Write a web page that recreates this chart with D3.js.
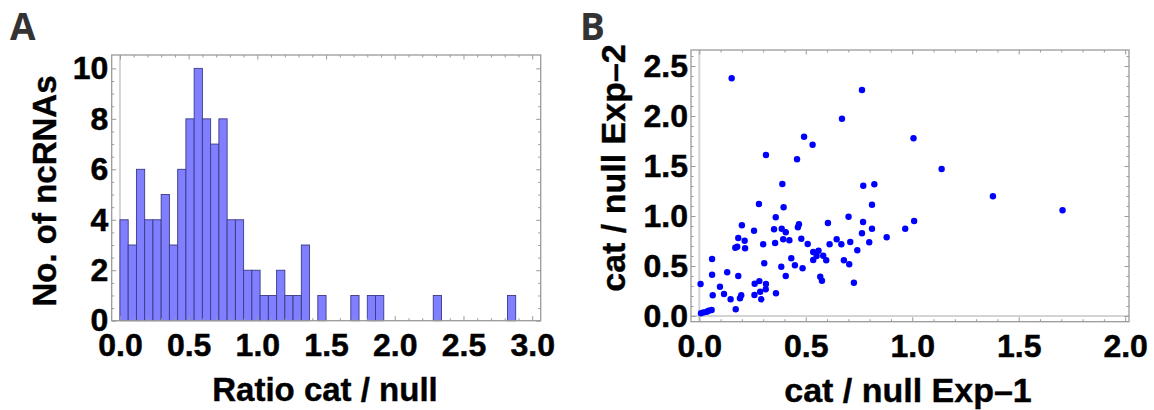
<!DOCTYPE html>
<html>
<head>
<meta charset="utf-8">
<script src="https://cdn.jsdelivr.net/npm/d3@7/dist/d3.min.js"></script>
<style>
  html, body { margin: 0; padding: 0; background: #fff; }
  svg { display: block; }
  .tl text { font-family: "Liberation Sans", Arial, Helvetica, sans-serif; font-weight: bold; font-size: 32px; fill: #000; stroke: #000; stroke-width: 0.5px; }
  .title { font-family: "Liberation Sans", Arial, Helvetica, sans-serif; font-weight: bold; font-size: 33px; fill: #000; stroke: #000; stroke-width: 0.4px; }
  .titleB { font-size: 34px; }
  .panel { font-family: "Open Sans", "Noto Sans", sans-serif; font-weight: bold; font-size: 37px; fill: #333; }
</style>
</head>
<body>
<svg id="chart" width="1154" height="410"></svg>
<script>
// ---------------- data ----------------
// Panel A: histogram of cat/null ratio, bins of width 0.06 starting at 0
const binWidth = 0.06;
const binCounts = [4,3,6,4,4,5,3,6,8,10,8,7,8,4,4,2,2,1,1,2,1,1,3,0,1,
                   0,0,0,1,0,1,1,0,0,0,0,0,0,1,0,0,0,0,0,0,0,0,1];
const histXTicks = [0, 0.5, 1.0, 1.5, 2.0, 2.5, 3.0];
const histYTicks = [0, 2, 4, 6, 8, 10];

// Panel B: scatter cat/null Exp-1 vs Exp-2
const exp1 = [0.152,0.764,0.670,1.006,0.492,0.532,0.313,0.459,0.390,0.770,0.822,0.280,0.811,0.396,0.359,0.701,
              0.200,0.468,0.604,0.769,1.009,0.967,0.811,0.257,0.351,0.387,0.406,0.463,0.764,0.183,0.213,0.394,
              0.423,0.479,0.300,0.356,0.509,0.612,0.645,0.667,0.709,0.798,0.880,0.169,0.178,0.215,0.535,0.560,
              0.551,0.535,0.582,0.596,0.742,0.060,0.432,0.305,0.449,0.385,0.485,0.679,0.704,0.131,0.060,0.183,
              0.406,0.006,0.097,0.260,0.282,0.313,0.568,0.576,0.726,0.063,0.116,0.197,0.191,0.147,0.259,0.286,
              0.312,0.291,0.360,0.171,0.008,0.019,0.035,0.044,0.058,1.138,1.379,1.706];
const exp2 = [2.377,2.260,1.973,1.777,1.793,1.713,1.610,1.567,1.320,1.303,1.317,1.120,1.113,1.087,0.987,0.993,
              0.907,0.917,0.930,0.940,0.950,0.873,0.873,0.853,0.867,0.873,0.837,0.887,0.827,0.780,0.753,0.767,
              0.757,0.773,0.717,0.730,0.720,0.717,0.767,0.717,0.740,0.737,0.787,0.683,0.693,0.677,0.640,0.653,
              0.600,0.560,0.603,0.557,0.657,0.570,0.577,0.527,0.507,0.493,0.477,0.557,0.517,0.437,0.413,0.400,
              0.400,0.320,0.293,0.323,0.349,0.320,0.393,0.353,0.333,0.207,0.220,0.207,0.177,0.167,0.210,0.243,
              0.267,0.167,0.227,0.067,0.027,0.036,0.043,0.053,0.060,1.470,1.197,1.057];
const scatXTicks = [0, 0.5, 1.0, 1.5, 2.0];
const scatYTicks = [0, 0.5, 1.0, 1.5, 2.0, 2.5];

// ---------------- drawing ----------------
const svg = d3.select("#chart");
const fmt1 = d3.format(".1f");
const frameColor = "#9a9a9a";
const axisZeroColor = "#d4d4d4";

function frameTicks(g, x, y, w, h, xMajor, xMinor, yMajor, yMinor) {
  const tg = g.append("g").attr("class", "frameticks");
  const mk = (axisFn, scale, vals, size, tr) => {
    const a = axisFn(scale).tickValues(vals).tickSize(size).tickFormat("");
    const s = tg.append("g").attr("transform", tr).call(a);
    s.select(".domain").remove();
    s.selectAll("line").attr("stroke", frameColor).attr("stroke-width", 1);
  };
  mk(d3.axisBottom, x, xMajor, -4.5, `translate(0,${h})`);
  mk(d3.axisBottom, x, xMinor, -2.5, `translate(0,${h})`);
  mk(d3.axisTop, x, xMajor, -4.5, `translate(0,0)`);
  mk(d3.axisTop, x, xMinor, -2.5, `translate(0,0)`);
  mk(d3.axisLeft, y, yMajor, -4.5, `translate(0,0)`);
  mk(d3.axisLeft, y, yMinor, -2.5, `translate(0,0)`);
  mk(d3.axisRight, y, yMajor, -4.5, `translate(${w},0)`);
  mk(d3.axisRight, y, yMinor, -2.5, `translate(${w},0)`);
}

function labels(g, axisFn, scale, vals, format, tr, pad) {
  const a = axisFn(scale).tickValues(vals).tickSize(0).tickPadding(pad).tickFormat(format);
  const s = g.append("g").attr("class", "tl").attr("transform", tr).call(a);
  s.select(".domain").remove();
  s.selectAll("text").attr("font-family", null).attr("font-size", null);
  return s;
}

function minorVals(lo, hi, step) {
  const out = [];
  const n = Math.round((hi - lo) / step);
  for (let i = 0; i <= n; i++) out.push(+(lo + i * step).toFixed(6));
  return out;
}

// ---- Panel A ----
{
  const L = 111.7, T = 55, W = 429, H = 265.7;
  const g = svg.append("g").attr("transform", `translate(${L},${T})`);
  const x = d3.scaleLinear().domain([-0.06, 3.062]).range([0, W]);
  const y = d3.scaleLinear().domain([0, 10.53]).range([H, 0]);

  g.append("line").attr("x1", x(0)).attr("x2", x(0)).attr("y1", 0).attr("y2", H)
    .attr("stroke", axisZeroColor).attr("stroke-width", 2);

  const bins = binCounts.map((c, i) => ({ x0: i * binWidth, x1: (i + 1) * binWidth, c }));
  g.append("g").selectAll("rect").data(bins.filter(d => d.c > 0)).join("rect")
    .attr("x", d => x(d.x0)).attr("width", d => x(d.x1) - x(d.x0))
    .attr("y", d => y(d.c)).attr("height", d => y(0) - y(d.c))
    .attr("fill", "#7f7fff").attr("stroke", "#3b3b86").attr("stroke-width", 0.9);

  g.append("rect").attr("x", 0).attr("y", 0).attr("width", W).attr("height", H)
    .attr("fill", "none").attr("stroke", frameColor).attr("stroke-width", 1.3);

  frameTicks(g, x, y, W, H, histXTicks, minorVals(0, 3.0, 0.1).filter(v => !histXTicks.includes(v)),
             histYTicks, minorVals(0, 10, 0.5).filter(v => !histYTicks.includes(v)));

  labels(g, d3.axisBottom, x, histXTicks, fmt1, `translate(0,${H})`, 13);
  labels(g, d3.axisLeft, y, histYTicks, d3.format("d"), `translate(${108.3 - L},0)`, 0);

  svg.append("text").attr("class", "title").attr("x", 325).attr("y", 401)
    .attr("text-anchor", "middle").text("Ratio cat / null");
  svg.append("text").attr("class", "title")
    .attr("transform", "translate(56,191) rotate(-90)")
    .attr("text-anchor", "middle").text("No. of ncRNAs");
  svg.append("text").attr("class", "panel").attr("x", 10).attr("y", 40).text("A");
}

// ---- Panel B ----
{
  const L = 691, T = 50, W = 438, H = 271.7;
  const g = svg.append("g").attr("transform", `translate(${L},${T})`);
  const x = d3.scaleLinear().domain([-0.039, 2.018]).range([0, W]);
  const y = d3.scaleLinear().domain([-0.057, 2.66]).range([H, 0]);

  g.append("line").attr("x1", x(0)).attr("x2", x(0)).attr("y1", 0).attr("y2", H)
    .attr("stroke", axisZeroColor).attr("stroke-width", 2);
  g.append("line").attr("x1", 0).attr("x2", W).attr("y1", y(0)).attr("y2", y(0))
    .attr("stroke", axisZeroColor).attr("stroke-width", 2);

  const pts = exp1.map((v, i) => ({ a: v, b: exp2[i] }));
  g.append("g").selectAll("circle").data(pts).join("circle")
    .attr("cx", d => x(d.a)).attr("cy", d => y(d.b)).attr("r", 3.2)
    .attr("fill", "#0000ff");

  g.append("rect").attr("x", 0).attr("y", 0).attr("width", W).attr("height", H)
    .attr("fill", "none").attr("stroke", frameColor).attr("stroke-width", 1.3);

  frameTicks(g, x, y, W, H, scatXTicks, minorVals(0, 2.0, 0.1).filter(v => !scatXTicks.includes(v)),
             scatYTicks, minorVals(0, 2.6, 0.1).filter(v => !scatYTicks.includes(v)));

  labels(g, d3.axisBottom, x, scatXTicks, fmt1, `translate(0,${H})`, 13);
  labels(g, d3.axisLeft, y, scatYTicks, fmt1, `translate(${688 - L},0)`, 0);

  svg.append("text").attr("class", "title titleB").attr("x", 908).attr("y", 402)
    .attr("text-anchor", "middle").text("cat / null Exp\u20131");
  svg.append("text").attr("class", "title titleB")
    .attr("transform", "translate(625,168) rotate(-90)")
    .attr("text-anchor", "middle").text("cat / null Exp\u20132");
  svg.append("text").attr("class", "panel").attr("x", 580).attr("y", 40).text("B");
}
</script>
</body>
</html>
